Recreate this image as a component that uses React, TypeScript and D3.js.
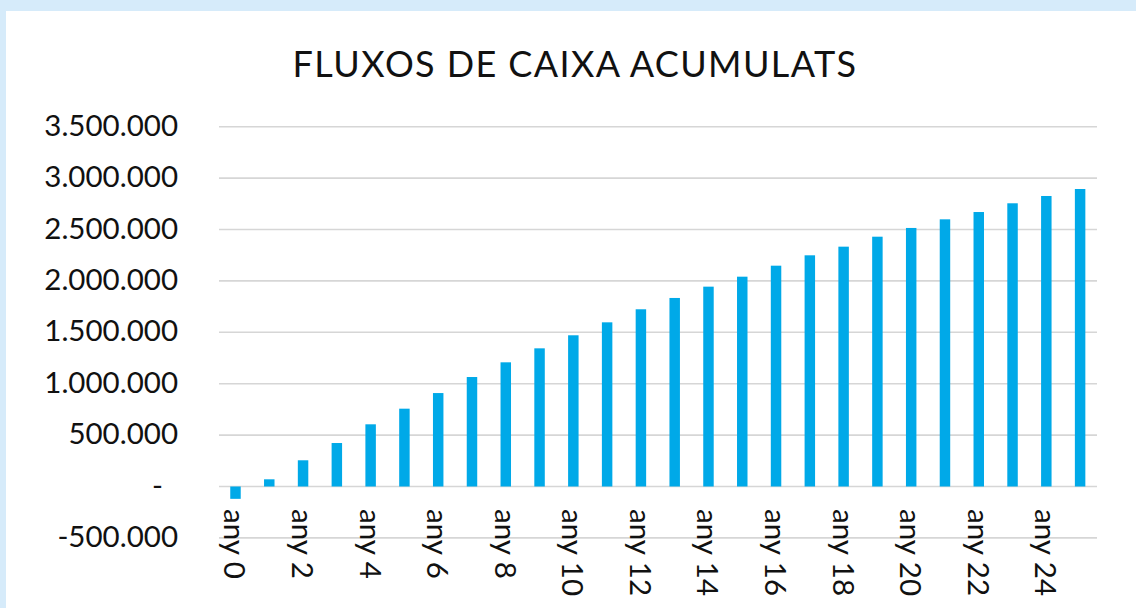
import React from "react";
import * as d3 from "d3";

const years = d3.range(26).map(i => `any ${i}`);
const cumulative = [
  -120000, 70000, 255000, 423000, 605000, 757000, 909000, 1065000, 1208000,
  1344000, 1471000, 1597000, 1724000, 1834000, 1944000, 2041000, 2148000,
  2249000, 2333000, 2430000, 2515000, 2599000, 2670000, 2755000, 2826000, 2894000,
];
const yTicks = [-500000, 0, 500000, 1000000, 1500000, 2000000, 2500000, 3000000, 3500000];

const W = 1136;
const H = 608;
const FONT = "Lato, 'Noto Sans', sans-serif";

const fmt = (v: number) => {
  if (v === 0) return "-";
  const s = Math.abs(v).toString().replace(/\B(?=(\d{3})+(?!\d))/g, ".");
  return v < 0 ? `-${s}` : s;
};

export default function App() {
  const x = d3.scaleBand<string>().domain(years).range([218.6, 1097]).paddingInner(0.69).paddingOuter(0.345);
  const y = d3.scaleLinear().domain([-500000, 3500000]).range([537.9, 126.7]);

  return (
    <svg width={W} height={H} style={{ position: "absolute", left: 0, top: 0 }} fontFamily={FONT}>
      <rect x={0} y={0} width={W} height={H} fill="#d6ebfa" />
      <rect x={6} y={11} width={W - 6} height={H} fill="#ffffff" />

      <text x={575} y={77} textAnchor="middle" fontSize={36} letterSpacing={1.4} fill="#111">
        FLUXOS DE CAIXA ACUMULATS
      </text>

      {/* gridlines + y labels */}
      {yTicks.map(t => (
        <g key={t}>
          <line x1={219} x2={1097} y1={y(t)} y2={y(t)} stroke="#d6d6d6" strokeWidth={1.6} />
          <text x={t === 0 ? 163 : 178} y={y(t) + 9} textAnchor="end" fontSize={29.5} fill="#111">
            {fmt(t)}
          </text>
        </g>
      ))}

      {/* bars */}
      {cumulative.map((v, i) => (
        <rect
          key={years[i]}
          x={x(years[i])}
          width={x.bandwidth()}
          y={y(Math.max(0, v))}
          height={Math.abs(y(v) - y(0))}
          fill="#00a9e8"
        />
      ))}

      {/* category labels, every second one */}
      {years.map((c, i) =>
        i % 2 === 0 ? (
          <text
            key={c}
            transform={`translate(${(x(c) ?? 0) + x.bandwidth() / 2},509) rotate(90)`}
            dy={11}
            fontSize={29.5}
            fill="#111"
          >
            {c}
          </text>
        ) : null
      )}
    </svg>
  );
}
